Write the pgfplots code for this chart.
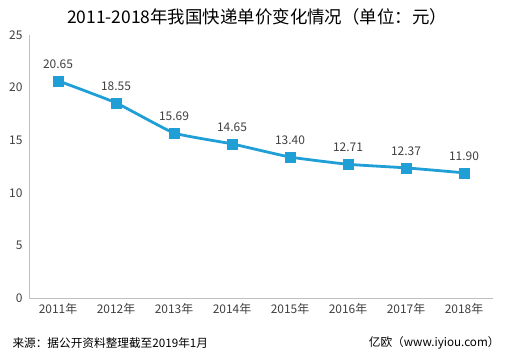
\documentclass[border=0pt]{standalone}
\usepackage{fontspec}
\setmainfont{Noto Sans CJK SC}
\usepackage{pgfplots}
\pgfplotsset{compat=1.18}
\definecolor{lineblue}{HTML}{1F9FD6}
\definecolor{axgray}{HTML}{BFBFBF}
\definecolor{txt}{HTML}{404040}
\begin{document}
\begin{tikzpicture}[x=1bp,y=1bp]
\useasboundingbox (0,0) rectangle (508,357);
\node[font=\fontsize{17.5}{20}\selectfont, text=black] at (257,340) {2011-2018年我国快递单价变化情况（单位：元）};
\begin{axis}[
  at={(29bp,59bp)}, anchor=south west,
  scale only axis, width=464bp, height=263bp,
  xmin=-0.5, xmax=7.5, ymin=0, ymax=25,
  axis lines*=left,
  axis line style={axgray, line width=1bp},
  xtick={0,...,7},
  xticklabels={2011年,2012年,2013年,2014年,2015年,2016年,2017年,2018年},
  ytick={0,5,...,25},
  major tick length=0pt,
  tick label style={font=\fontsize{12}{14}\selectfont, text=txt},
  /pgf/number format/assume math mode=true,
  xticklabel style={yshift=-2bp},
  yticklabel style={xshift=-3bp},
  clip=false,
  nodes near coords,
  point meta=explicit symbolic,
  nodes near coords style={font=\fontsize{12}{14}\selectfont, text=txt, above, yshift=9bp},
]
\addplot[lineblue, line width=2.8bp, smooth, tension=0.25, mark=square*, mark size=5bp,
  mark options={fill=lineblue, draw=lineblue, line width=0.5bp}]
  coordinates {
  (0,20.65) [20.65]
  (1,18.55) [18.55]
  (2,15.69) [15.69]
  (3,14.65) [14.65]
  (4,13.40) [13.40]
  (5,12.71) [12.71]
  (6,12.37) [12.37]
  (7,11.90) [11.90]
  };
\end{axis}
\node[anchor=west, font=\fontsize{11.7}{14}\selectfont, text=black] at (9,14) {来源：据公开资料整理截至2019年1月};
\node[anchor=east, font=\fontsize{11.7}{14}\selectfont, text=black] at (503,14) {亿欧（www.iyiou.com）};
\end{tikzpicture}
\end{document}
